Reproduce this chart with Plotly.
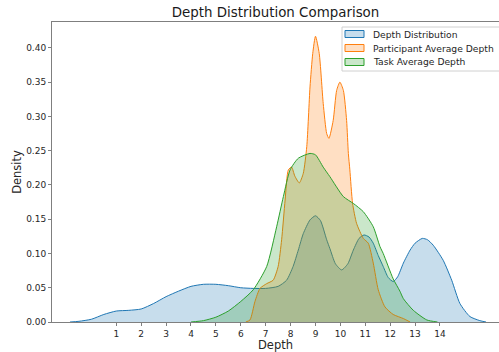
import plotly.graph_objects as go

# ---- data (x = depth, y = density) ----
depth_x = [-0.86, -0.5, 0.0, 0.5, 1.0, 1.5, 2.0, 2.5, 3.0, 3.5, 4.0, 4.5, 5.0, 5.5, 6.0, 6.5, 7.0,
           7.5, 7.84, 8.1, 8.31, 8.51, 8.78, 9.0, 9.2, 9.45, 9.58, 9.8, 10.05, 10.3, 10.52, 10.75,
           10.95, 11.15, 11.32, 11.52, 11.72, 11.92, 12.12, 12.3, 12.53, 12.8, 13.0, 13.29, 13.5,
           13.73, 14.13, 14.47, 14.8, 15.2, 15.6, 15.85]
depth_y = [0.0, 0.001, 0.004, 0.011, 0.016, 0.017, 0.019, 0.027, 0.037, 0.045, 0.052, 0.055, 0.055,
           0.053, 0.050, 0.049, 0.049, 0.052, 0.061, 0.081, 0.105, 0.129, 0.149, 0.155, 0.148, 0.120,
           0.107, 0.085, 0.076, 0.085, 0.105, 0.122, 0.127, 0.124, 0.115, 0.097, 0.081, 0.065, 0.059,
           0.066, 0.086, 0.105, 0.115, 0.122, 0.120, 0.112, 0.090, 0.061, 0.027, 0.008, 0.002, 0.0]

part_x = [6.2, 6.37, 6.57, 6.77, 7.04, 7.3, 7.5, 7.64, 7.78, 7.91, 8.04, 8.17, 8.35, 8.51, 8.65, 8.78,
          8.89, 9.0, 9.15, 9.31, 9.45, 9.54, 9.71, 9.85, 9.98, 10.12, 10.25, 10.32, 10.38, 10.49,
          10.65, 10.92, 11.12, 11.32, 11.52, 11.79, 12.12, 12.53, 12.8]
part_y = [0.0, 0.003, 0.030, 0.049, 0.056, 0.061, 0.081, 0.120, 0.178, 0.222, 0.226, 0.213, 0.203,
          0.217, 0.256, 0.343, 0.392, 0.417, 0.392, 0.319, 0.275, 0.268, 0.294, 0.338, 0.350, 0.338,
          0.294, 0.246, 0.222, 0.173, 0.144, 0.122, 0.115, 0.086, 0.047, 0.022, 0.011, 0.005, 0.0]

task_x = [4.0, 4.5, 5.0, 5.5, 6.0, 6.5, 7.04, 7.44, 7.71, 7.98, 8.31, 8.78, 9.0, 9.31, 9.58, 10.12,
          10.52, 10.92, 11.32, 11.59, 11.72, 12.12, 12.39, 12.53, 12.93, 13.47, 13.9]
task_y = [0.0, 0.002, 0.007, 0.016, 0.030, 0.047, 0.081, 0.139, 0.183, 0.222, 0.239, 0.246, 0.244,
          0.226, 0.212, 0.183, 0.173, 0.161, 0.139, 0.110, 0.100, 0.063, 0.045, 0.034, 0.017, 0.003, 0.0]

series_names = ["Depth Distribution", "Participant Average Depth", "Task Average Depth"]
line_colors = ["#1f77b4", "#ff7f0e", "#2ca02c"]
fill_colors = ["rgba(31,119,180,0.25)", "rgba(255,127,14,0.25)", "rgba(44,160,44,0.25)"]
x_ticks = list(range(1, 15))
y_ticks = [0.0, 0.05, 0.10, 0.15, 0.20, 0.25, 0.30, 0.35, 0.40]

FONT = "DejaVu Sans"
W, H = 499, 352
ML, MR, MT, MB = 52, 0, 22, 30
PW, PH = W - ML - MR, H - MT - MB

fig = go.Figure()
for (xs, ys), name, lc, fc in zip([(depth_x, depth_y), (part_x, part_y), (task_x, task_y)],
                                  series_names, line_colors, fill_colors):
    fig.add_trace(go.Scatter(x=xs, y=ys, mode="lines", name=name, fill="tozeroy",
                             fillcolor=fc, line=dict(color=lc, width=1, shape="spline", smoothing=0.6),
                             showlegend=False, hoverinfo="skip"))

axis_col = "#7f7f7f"
fig.update_layout(
    width=W, height=H, margin=dict(l=ML, r=MR, t=MT, b=MB, autoexpand=False),
    paper_bgcolor="white", plot_bgcolor="white",
    font=dict(family=FONT, size=9, color="#262626"),
    title=dict(text="Depth Distribution Comparison", x=0.5, xref="paper", xanchor="center",
               y=1 - 12 / H, yref="container", yanchor="middle",
               font=dict(family=FONT, size=13.4, color="#1a1a1a")),
    xaxis=dict(range=[-1.582, 16.37], tickvals=x_ticks, ticktext=[str(t) for t in x_ticks],
               showgrid=False, zeroline=False, showline=True, linecolor=axis_col, linewidth=1,
               mirror=True, ticks="outside", ticklen=3, tickcolor=axis_col,
               tickfont=dict(size=9),
               title=dict(text="Depth", font=dict(size=11.5), standoff=1)),
    yaxis=dict(range=[0, 0.4378], tickvals=y_ticks, tickformat=".2f",
               showgrid=False, zeroline=False, showline=True, linecolor=axis_col, linewidth=1,
               mirror=False, ticks="outside", ticklen=3, tickcolor=axis_col,
               tickfont=dict(size=9),
               title=dict(text="Density", font=dict(size=11.5), standoff=2)),
)

# legend drawn like the reference (box with patches)
def px2paper(px, py):
    return (px - ML) / PW, (H - MB - py) / PH

bx0, by0 = px2paper(342, 27)
bx1, by1 = px2paper(520, 71)
fig.add_shape(type="rect", xref="paper", yref="paper", x0=bx0, x1=bx1, y0=by1, y1=by0,
              line=dict(color="#d0d0d0", width=1), fillcolor="rgba(255,255,255,0.8)", layer="above")
for i, (name, lc, fc) in enumerate(zip(series_names, line_colors, fill_colors)):
    cy = 34 + 14 * i
    px0, py0 = px2paper(345, cy - 3.5)
    px1, py1 = px2paper(364, cy + 3.5)
    fig.add_shape(type="rect", xref="paper", yref="paper", x0=px0, x1=px1, y0=py1, y1=py0,
                  line=dict(color=lc, width=1), fillcolor=fc, layer="above")
    tx, ty = px2paper(371, cy)
    fig.add_annotation(x=tx, y=ty, xref="paper", yref="paper", text=name, showarrow=False,
                       xanchor="left", yanchor="middle", font=dict(family=FONT, size=9.2, color="#262626"))

fig.write_html("out.html", config={"displayModeBar": False})

# remove the default page margin so the figure sits at the window's top-left corner
with open("out.html", "r", encoding="utf-8") as f:
    html = f.read()
html = html.replace("<head>", "<head><style>html,body{margin:0;padding:0;overflow:hidden;}</style>", 1)
with open("out.html", "w", encoding="utf-8") as f:
    f.write(html)
